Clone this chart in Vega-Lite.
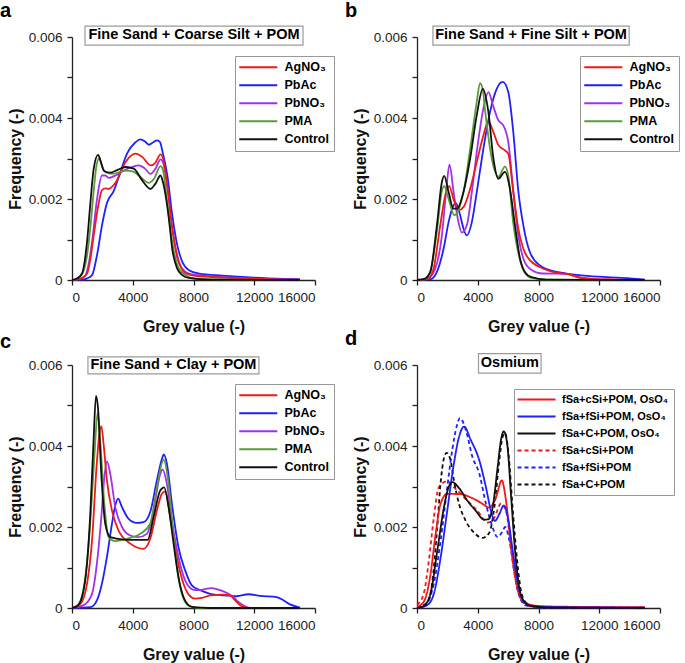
{
  "$schema": "https://vega.github.io/schema/vega-lite/v6.json",
  "padding": {"left": 0, "top": 1, "right": 0, "bottom": 0},
  "config": {
    "view": {"stroke": null},
    "font": "Liberation Sans",
    "axis": {"domainColor": "#222", "domainWidth": 1.3, "tickColor": "#222", "tickWidth": 1.3, "tickSize": 5, "labelFontSize": 13.5, "labelColor": "#222", "labelFont": "Liberation Sans", "labelPadding": 5, "titleFont": "Liberation Sans", "titleFontSize": 16, "titleFontWeight": "bold", "titleColor": "#111", "grid": false},
    "axisX": {"titlePadding": 15},
    "axisY": {"titlePadding": 5},
    "legend": {"strokeColor": "#999", "fillColor": "white", "padding": 5, "labelFont": "Liberation Sans", "labelFontSize": 12.5, "labelFontWeight": "bold", "labelColor": "#000", "symbolType": "M-9.5,0H9.5", "symbolSize": 16, "symbolOffset": 12, "symbolStrokeWidth": 2, "labelOffset": 20, "rowPadding": 5},
    "title": {"font": "Liberation Sans", "fontSize": 20, "fontWeight": "bold", "color": "#000", "anchor": "start", "frame": "group", "dx": -72, "offset": 0},
    "line": {"interpolate": "monotone", "strokeWidth": 1.8}
  },
  "resolve": {"scale": {"color": "independent", "strokeDash": "independent"}, "legend": {"color": "independent", "strokeDash": "independent"}},
  "datasets": {
    "a": [
      {"s":"PbAc","x":0,"y":0},{"s":"PbAc","x":700,"y":0.00001},{"s":"PbAc","x":1000,"y":0.00004},{"s":"PbAc","x":1320,"y":0.00012},{"s":"PbAc","x":1650,"y":0.00062},{"s":"PbAc","x":1975,"y":0.00135},{"s":"PbAc","x":2300,"y":0.0019},{"s":"PbAc","x":2750,"y":0.0022},{"s":"PbAc","x":3190,"y":0.00267},{"s":"PbAc","x":3620,"y":0.00312},{"s":"PbAc","x":4180,"y":0.0034},{"s":"PbAc","x":4500,"y":0.00347},{"s":"PbAc","x":4800,"y":0.00342},{"s":"PbAc","x":5060,"y":0.00334},{"s":"PbAc","x":5350,"y":0.0034},{"s":"PbAc","x":5600,"y":0.00345},{"s":"PbAc","x":5800,"y":0.0034},{"s":"PbAc","x":5940,"y":0.0032},{"s":"PbAc","x":6270,"y":0.0026},{"s":"PbAc","x":6600,"y":0.0016},{"s":"PbAc","x":6930,"y":0.00086},{"s":"PbAc","x":7260,"y":0.00045},{"s":"PbAc","x":7700,"y":0.00024},{"s":"PbAc","x":8360,"y":0.00016},{"s":"PbAc","x":9900,"y":0.00011},{"s":"PbAc","x":12000,"y":0.00006},{"s":"PbAc","x":14000,"y":0.00003},{"s":"PbAc","x":15000,"y":0.00002},
      {"s":"PbNO₃","x":0,"y":0},{"s":"PbNO₃","x":400,"y":0.00002},{"s":"PbNO₃","x":880,"y":0.00011},{"s":"PbNO₃","x":1100,"y":0.0004},{"s":"PbNO₃","x":1320,"y":0.00094},{"s":"PbNO₃","x":1650,"y":0.002},{"s":"PbNO₃","x":1975,"y":0.00258},{"s":"PbNO₃","x":2200,"y":0.00258},{"s":"PbNO₃","x":2420,"y":0.00252},{"s":"PbNO₃","x":2860,"y":0.00258},{"s":"PbNO₃","x":3400,"y":0.0027},{"s":"PbNO₃","x":3960,"y":0.00279},{"s":"PbNO₃","x":4400,"y":0.00283},{"s":"PbNO₃","x":4800,"y":0.00275},{"s":"PbNO₃","x":5170,"y":0.00262},{"s":"PbNO₃","x":5500,"y":0.00275},{"s":"PbNO₃","x":5830,"y":0.00298},{"s":"PbNO₃","x":6000,"y":0.0029},{"s":"PbNO₃","x":6270,"y":0.0023},{"s":"PbNO₃","x":6600,"y":0.0013},{"s":"PbNO₃","x":6930,"y":0.00055},{"s":"PbNO₃","x":7260,"y":0.00028},{"s":"PbNO₃","x":7700,"y":0.00016},{"s":"PbNO₃","x":8300,"y":0.00012},{"s":"PbNO₃","x":9500,"y":0.00008},{"s":"PbNO₃","x":11000,"y":0.00005},{"s":"PbNO₃","x":13000,"y":0.00002},{"s":"PbNO₃","x":15000,"y":0.00001},
      {"s":"AgNO₃","x":0,"y":0},{"s":"AgNO₃","x":500,"y":0.00002},{"s":"AgNO₃","x":990,"y":0.00016},{"s":"AgNO₃","x":1200,"y":0.0005},{"s":"AgNO₃","x":1430,"y":0.0011},{"s":"AgNO₃","x":1760,"y":0.0019},{"s":"AgNO₃","x":1975,"y":0.00222},{"s":"AgNO₃","x":2200,"y":0.00226},{"s":"AgNO₃","x":2420,"y":0.00225},{"s":"AgNO₃","x":2860,"y":0.0024},{"s":"AgNO₃","x":3520,"y":0.00291},{"s":"AgNO₃","x":4180,"y":0.00312},{"s":"AgNO₃","x":4620,"y":0.00304},{"s":"AgNO₃","x":5170,"y":0.00283},{"s":"AgNO₃","x":5500,"y":0.0029},{"s":"AgNO₃","x":5830,"y":0.0031},{"s":"AgNO₃","x":6000,"y":0.003},{"s":"AgNO₃","x":6270,"y":0.00234},{"s":"AgNO₃","x":6600,"y":0.00127},{"s":"AgNO₃","x":7040,"y":0.00045},{"s":"AgNO₃","x":7480,"y":0.00016},{"s":"AgNO₃","x":8140,"y":0.0001},{"s":"AgNO₃","x":10000,"y":0.00006},{"s":"AgNO₃","x":12000,"y":0.00003},{"s":"AgNO₃","x":15000,"y":0.00001},
      {"s":"PMA","x":0,"y":0},{"s":"PMA","x":300,"y":0.00003},{"s":"PMA","x":660,"y":0.00014},{"s":"PMA","x":990,"y":0.0006},{"s":"PMA","x":1210,"y":0.0013},{"s":"PMA","x":1430,"y":0.0022},{"s":"PMA","x":1600,"y":0.0028},{"s":"PMA","x":1780,"y":0.003},{"s":"PMA","x":1950,"y":0.00285},{"s":"PMA","x":2200,"y":0.00266},{"s":"PMA","x":2640,"y":0.00262},{"s":"PMA","x":3520,"y":0.0027},{"s":"PMA","x":4000,"y":0.00268},{"s":"PMA","x":4400,"y":0.00258},{"s":"PMA","x":5060,"y":0.0024},{"s":"PMA","x":5400,"y":0.0025},{"s":"PMA","x":5830,"y":0.00281},{"s":"PMA","x":6000,"y":0.0027},{"s":"PMA","x":6270,"y":0.00192},{"s":"PMA","x":6600,"y":0.00094},{"s":"PMA","x":7040,"y":0.00028},{"s":"PMA","x":7480,"y":0.00012},{"s":"PMA","x":8000,"y":0.00004},{"s":"PMA","x":10000,"y":0.00001},{"s":"PMA","x":15000,"y":0},
      {"s":"Control","x":0,"y":0},{"s":"Control","x":300,"y":0.00003},{"s":"Control","x":660,"y":0.00016},{"s":"Control","x":990,"y":0.00094},{"s":"Control","x":1210,"y":0.0019},{"s":"Control","x":1430,"y":0.00275},{"s":"Control","x":1716,"y":0.00309},{"s":"Control","x":1900,"y":0.00292},{"s":"Control","x":2090,"y":0.0027},{"s":"Control","x":2530,"y":0.00265},{"s":"Control","x":3000,"y":0.00272},{"s":"Control","x":3520,"y":0.00279},{"s":"Control","x":4070,"y":0.00275},{"s":"Control","x":4620,"y":0.00246},{"s":"Control","x":5170,"y":0.00225},{"s":"Control","x":5500,"y":0.00238},{"s":"Control","x":5830,"y":0.00258},{"s":"Control","x":6000,"y":0.0024},{"s":"Control","x":6380,"y":0.00151},{"s":"Control","x":6600,"y":0.00077},{"s":"Control","x":6930,"y":0.00028},{"s":"Control","x":7260,"y":0.00012},{"s":"Control","x":7700,"y":0.00005},{"s":"Control","x":9000,"y":0.00001},{"s":"Control","x":15000,"y":0}
    ],
    "b": [
      {"s":"PbAc","x":0,"y":0},{"s":"PbAc","x":900,"y":0.00002},{"s":"PbAc","x":1310,"y":0.0002},{"s":"PbAc","x":1750,"y":0.00077},{"s":"PbAc","x":2080,"y":0.00143},{"s":"PbAc","x":2400,"y":0.00184},{"s":"PbAc","x":2560,"y":0.0019},{"s":"PbAc","x":2840,"y":0.0016},{"s":"PbAc","x":3060,"y":0.00127},{"s":"PbAc","x":3280,"y":0.0011},{"s":"PbAc","x":3610,"y":0.00143},{"s":"PbAc","x":3935,"y":0.00217},{"s":"PbAc","x":4370,"y":0.00324},{"s":"PbAc","x":4810,"y":0.00415},{"s":"PbAc","x":5250,"y":0.00472},{"s":"PbAc","x":5640,"y":0.00489},{"s":"PbAc","x":6010,"y":0.00464},{"s":"PbAc","x":6340,"y":0.00365},{"s":"PbAc","x":6670,"y":0.0022},{"s":"PbAc","x":7000,"y":0.00135},{"s":"PbAc","x":7430,"y":0.00069},{"s":"PbAc","x":8090,"y":0.00036},{"s":"PbAc","x":9180,"y":0.0002},{"s":"PbAc","x":9840,"y":0.00016},{"s":"PbAc","x":11000,"y":0.00011},{"s":"PbAc","x":12500,"y":0.00007},{"s":"PbAc","x":14000,"y":0.00004},{"s":"PbAc","x":15000,"y":0.00001},
      {"s":"PbNO₃","x":0,"y":0},{"s":"PbNO₃","x":700,"y":0.00003},{"s":"PbNO₃","x":1200,"y":0.00028},{"s":"PbNO₃","x":1640,"y":0.0011},{"s":"PbNO₃","x":1920,"y":0.0022},{"s":"PbNO₃","x":2140,"y":0.00285},{"s":"PbNO₃","x":2400,"y":0.0022},{"s":"PbNO₃","x":2730,"y":0.00143},{"s":"PbNO₃","x":2950,"y":0.00117},{"s":"PbNO₃","x":3280,"y":0.00135},{"s":"PbNO₃","x":3610,"y":0.00217},{"s":"PbNO₃","x":3935,"y":0.00316},{"s":"PbNO₃","x":4370,"y":0.00423},{"s":"PbNO₃","x":4700,"y":0.00464},{"s":"PbNO₃","x":5030,"y":0.00428},{"s":"PbNO₃","x":5360,"y":0.00394},{"s":"PbNO₃","x":5680,"y":0.00382},{"s":"PbNO₃","x":6010,"y":0.00341},{"s":"PbNO₃","x":6340,"y":0.0022},{"s":"PbNO₃","x":6670,"y":0.0011},{"s":"PbNO₃","x":7000,"y":0.00053},{"s":"PbNO₃","x":7430,"y":0.00028},{"s":"PbNO₃","x":8300,"y":0.00016},{"s":"PbNO₃","x":9840,"y":0.00015},{"s":"PbNO₃","x":10500,"y":0.00008},{"s":"PbNO₃","x":11500,"y":0.00003},{"s":"PbNO₃","x":13000,"y":0.00001},{"s":"PbNO₃","x":15000,"y":0},
      {"s":"AgNO₃","x":0,"y":0},{"s":"AgNO₃","x":700,"y":0.00003},{"s":"AgNO₃","x":1090,"y":0.00028},{"s":"AgNO₃","x":1530,"y":0.00135},{"s":"AgNO₃","x":1860,"y":0.00209},{"s":"AgNO₃","x":2120,"y":0.00232},{"s":"AgNO₃","x":2400,"y":0.002},{"s":"AgNO₃","x":2730,"y":0.00172},{"s":"AgNO₃","x":3060,"y":0.0018},{"s":"AgNO₃","x":3500,"y":0.00225},{"s":"AgNO₃","x":3935,"y":0.00291},{"s":"AgNO₃","x":4370,"y":0.00357},{"s":"AgNO₃","x":4700,"y":0.00392},{"s":"AgNO₃","x":5030,"y":0.00365},{"s":"AgNO₃","x":5360,"y":0.00333},{"s":"AgNO₃","x":5790,"y":0.0032},{"s":"AgNO₃","x":6010,"y":0.00312},{"s":"AgNO₃","x":6340,"y":0.00217},{"s":"AgNO₃","x":6670,"y":0.00127},{"s":"AgNO₃","x":7000,"y":0.00077},{"s":"AgNO₃","x":7430,"y":0.00049},{"s":"AgNO₃","x":8090,"y":0.00032},{"s":"AgNO₃","x":9180,"y":0.00018},{"s":"AgNO₃","x":9900,"y":0.00015},{"s":"AgNO₃","x":10500,"y":0.00008},{"s":"AgNO₃","x":11500,"y":0.00003},{"s":"AgNO₃","x":13000,"y":0.00001},{"s":"AgNO₃","x":15000,"y":0},
      {"s":"PMA","x":0,"y":0},{"s":"PMA","x":500,"y":0.00003},{"s":"PMA","x":875,"y":0.0002},{"s":"PMA","x":1310,"y":0.0012},{"s":"PMA","x":1640,"y":0.0022},{"s":"PMA","x":1790,"y":0.00232},{"s":"PMA","x":2080,"y":0.002},{"s":"PMA","x":2450,"y":0.0016},{"s":"PMA","x":2700,"y":0.0017},{"s":"PMA","x":3060,"y":0.00217},{"s":"PMA","x":3500,"y":0.00324},{"s":"PMA","x":3935,"y":0.0044},{"s":"PMA","x":4150,"y":0.00486},{"s":"PMA","x":4330,"y":0.0047},{"s":"PMA","x":4480,"y":0.0042},{"s":"PMA","x":4920,"y":0.003},{"s":"PMA","x":5360,"y":0.00255},{"s":"PMA","x":5790,"y":0.0028},{"s":"PMA","x":6000,"y":0.0026},{"s":"PMA","x":6340,"y":0.0014},{"s":"PMA","x":6780,"y":0.0005},{"s":"PMA","x":7100,"y":0.00018},{"s":"PMA","x":7540,"y":0.00005},{"s":"PMA","x":8500,"y":0.00001},{"s":"PMA","x":15000,"y":0},
      {"s":"Control","x":0,"y":0},{"s":"Control","x":500,"y":0.00003},{"s":"Control","x":875,"y":0.0002},{"s":"Control","x":1310,"y":0.00135},{"s":"Control","x":1640,"y":0.00242},{"s":"Control","x":1790,"y":0.00257},{"s":"Control","x":2080,"y":0.00217},{"s":"Control","x":2400,"y":0.00176},{"s":"Control","x":2620,"y":0.00176},{"s":"Control","x":3060,"y":0.00217},{"s":"Control","x":3500,"y":0.003},{"s":"Control","x":3935,"y":0.00407},{"s":"Control","x":4330,"y":0.00472},{"s":"Control","x":4700,"y":0.00415},{"s":"Control","x":5030,"y":0.003},{"s":"Control","x":5360,"y":0.0025},{"s":"Control","x":5790,"y":0.00267},{"s":"Control","x":6120,"y":0.00225},{"s":"Control","x":6450,"y":0.00135},{"s":"Control","x":6780,"y":0.00053},{"s":"Control","x":7100,"y":0.0002},{"s":"Control","x":7540,"y":0.00007},{"s":"Control","x":8500,"y":0.00001},{"s":"Control","x":15000,"y":0}
    ],
    "c": [
      {"s":"PbAc","x":0,"y":0},{"s":"PbAc","x":1200,"y":0.00002},{"s":"PbAc","x":1640,"y":0.00019},{"s":"PbAc","x":1970,"y":0.0006},{"s":"PbAc","x":2300,"y":0.00126},{"s":"PbAc","x":2630,"y":0.00208},{"s":"PbAc","x":2850,"y":0.00253},{"s":"PbAc","x":3030,"y":0.0027},{"s":"PbAc","x":3290,"y":0.00249},{"s":"PbAc","x":3730,"y":0.0022},{"s":"PbAc","x":4270,"y":0.0021},{"s":"PbAc","x":4710,"y":0.00212},{"s":"PbAc","x":5150,"y":0.00237},{"s":"PbAc","x":5590,"y":0.00315},{"s":"PbAc","x":5920,"y":0.00368},{"s":"PbAc","x":6050,"y":0.00379},{"s":"PbAc","x":6250,"y":0.00356},{"s":"PbAc","x":6580,"y":0.00257},{"s":"PbAc","x":7010,"y":0.0015},{"s":"PbAc","x":7450,"y":0.00093},{"s":"PbAc","x":7890,"y":0.00056},{"s":"PbAc","x":8440,"y":0.00044},{"s":"PbAc","x":9100,"y":0.00035},{"s":"PbAc","x":9970,"y":0.00031},{"s":"PbAc","x":10850,"y":0.00029},{"s":"PbAc","x":11620,"y":0.00034},{"s":"PbAc","x":12380,"y":0.0003},{"s":"PbAc","x":13480,"y":0.00027},{"s":"PbAc","x":13920,"y":0.00019},{"s":"PbAc","x":14360,"y":0.00009},{"s":"PbAc","x":15020,"y":0.00001},
      {"s":"PbNO₃","x":0,"y":0},{"s":"PbNO₃","x":770,"y":0.00007},{"s":"PbNO₃","x":1320,"y":0.00035},{"s":"PbNO₃","x":1640,"y":0.0011},{"s":"PbNO₃","x":1930,"y":0.00224},{"s":"PbNO₃","x":2130,"y":0.00323},{"s":"PbNO₃","x":2300,"y":0.00362},{"s":"PbNO₃","x":2520,"y":0.00331},{"s":"PbNO₃","x":2850,"y":0.00249},{"s":"PbNO₃","x":3290,"y":0.002},{"s":"PbNO₃","x":3840,"y":0.00179},{"s":"PbNO₃","x":4380,"y":0.00175},{"s":"PbNO₃","x":4930,"y":0.00183},{"s":"PbNO₃","x":5370,"y":0.00241},{"s":"PbNO₃","x":5810,"y":0.00331},{"s":"PbNO₃","x":5960,"y":0.00342},{"s":"PbNO₃","x":6250,"y":0.00306},{"s":"PbNO₃","x":6580,"y":0.00216},{"s":"PbNO₃","x":7010,"y":0.00126},{"s":"PbNO₃","x":7450,"y":0.00068},{"s":"PbNO₃","x":8000,"y":0.00045},{"s":"PbNO₃","x":8440,"y":0.00044},{"s":"PbNO₃","x":8880,"y":0.00048},{"s":"PbNO₃","x":9200,"y":0.00049},{"s":"PbNO₃","x":9750,"y":0.00044},{"s":"PbNO₃","x":10300,"y":0.00035},{"s":"PbNO₃","x":10630,"y":0.00027},{"s":"PbNO₃","x":10960,"y":0.00015},{"s":"PbNO₃","x":11400,"y":0.00004},{"s":"PbNO₃","x":11730,"y":0},{"s":"PbNO₃","x":15000,"y":0},
      {"s":"AgNO₃","x":0,"y":0},{"s":"AgNO₃","x":550,"y":0.0001},{"s":"AgNO₃","x":990,"y":0.0006},{"s":"AgNO₃","x":1320,"y":0.00167},{"s":"AgNO₃","x":1600,"y":0.0034},{"s":"AgNO₃","x":1780,"y":0.00422},{"s":"AgNO₃","x":1930,"y":0.00449},{"s":"AgNO₃","x":2080,"y":0.00405},{"s":"AgNO₃","x":2300,"y":0.00315},{"s":"AgNO₃","x":2630,"y":0.00241},{"s":"AgNO₃","x":3070,"y":0.00191},{"s":"AgNO₃","x":3840,"y":0.00159},{"s":"AgNO₃","x":4710,"y":0.00146},{"s":"AgNO₃","x":5150,"y":0.00171},{"s":"AgNO₃","x":5590,"y":0.00241},{"s":"AgNO₃","x":5920,"y":0.00282},{"s":"AgNO₃","x":6140,"y":0.00288},{"s":"AgNO₃","x":6470,"y":0.00224},{"s":"AgNO₃","x":6900,"y":0.00126},{"s":"AgNO₃","x":7340,"y":0.0006},{"s":"AgNO₃","x":7780,"y":0.00029},{"s":"AgNO₃","x":8110,"y":0.00023},{"s":"AgNO₃","x":8550,"y":0.00025},{"s":"AgNO₃","x":9100,"y":0.00031},{"s":"AgNO₃","x":9970,"y":0.00033},{"s":"AgNO₃","x":10410,"y":0.00031},{"s":"AgNO₃","x":10740,"y":0.00019},{"s":"AgNO₃","x":11180,"y":0.00004},{"s":"AgNO₃","x":11730,"y":0},{"s":"AgNO₃","x":15000,"y":0},
      {"s":"PMA","x":0,"y":0},{"s":"PMA","x":440,"y":0.0001},{"s":"PMA","x":880,"y":0.00076},{"s":"PMA","x":1200,"y":0.00208},{"s":"PMA","x":1470,"y":0.00372},{"s":"PMA","x":1690,"y":0.00483},{"s":"PMA","x":1860,"y":0.00413},{"s":"PMA","x":2130,"y":0.00257},{"s":"PMA","x":2410,"y":0.00175},{"s":"PMA","x":2850,"y":0.00165},{"s":"PMA","x":3620,"y":0.00171},{"s":"PMA","x":4490,"y":0.00183},{"s":"PMA","x":5150,"y":0.00208},{"s":"PMA","x":5590,"y":0.00298},{"s":"PMA","x":6030,"y":0.00366},{"s":"PMA","x":6360,"y":0.00306},{"s":"PMA","x":6690,"y":0.00175},{"s":"PMA","x":7010,"y":0.00076},{"s":"PMA","x":7340,"y":0.00023},{"s":"PMA","x":7780,"y":0.00004},{"s":"PMA","x":8500,"y":0},{"s":"PMA","x":15000,"y":0},
      {"s":"Control","x":0,"y":0},{"s":"Control","x":330,"y":0.00004},{"s":"Control","x":660,"y":0.00027},{"s":"Control","x":990,"y":0.0011},{"s":"Control","x":1200,"y":0.0023},{"s":"Control","x":1420,"y":0.00413},{"s":"Control","x":1580,"y":0.00524},{"s":"Control","x":1710,"y":0.00495},{"s":"Control","x":1930,"y":0.0033},{"s":"Control","x":2190,"y":0.00208},{"s":"Control","x":2520,"y":0.00175},{"s":"Control","x":3400,"y":0.00169},{"s":"Control","x":4270,"y":0.00168},{"s":"Control","x":4980,"y":0.00168},{"s":"Control","x":5370,"y":0.00224},{"s":"Control","x":5810,"y":0.0029},{"s":"Control","x":6070,"y":0.00298},{"s":"Control","x":6360,"y":0.00249},{"s":"Control","x":6690,"y":0.00159},{"s":"Control","x":7010,"y":0.00076},{"s":"Control","x":7340,"y":0.00027},{"s":"Control","x":7670,"y":0.00007},{"s":"Control","x":8000,"y":0.00002},{"s":"Control","x":9000,"y":0},{"s":"Control","x":15000,"y":0}
    ],
    "d": [
      {"s":"fSa+cSi+POM","x":0,"y":0.00008},{"s":"fSa+cSi+POM","x":440,"y":0.00035},{"s":"fSa+cSi+POM","x":775,"y":0.00115},{"s":"fSa+cSi+POM","x":1107,"y":0.00223},{"s":"fSa+cSi+POM","x":1440,"y":0.00298},{"s":"fSa+cSi+POM","x":1990,"y":0.00313},{"s":"fSa+cSi+POM","x":2430,"y":0.00298},{"s":"fSa+cSi+POM","x":3320,"y":0.00265},{"s":"fSa+cSi+POM","x":3980,"y":0.0024},{"s":"fSa+cSi+POM","x":4650,"y":0.00211},{"s":"fSa+cSi+POM","x":5090,"y":0.00223},{"s":"fSa+cSi+POM","x":5530,"y":0.00258},{"s":"fSa+cSi+POM","x":5860,"y":0.0024},{"s":"fSa+cSi+POM","x":6200,"y":0.00148},{"s":"fSa+cSi+POM","x":6530,"y":0.0006},{"s":"fSa+cSi+POM","x":6860,"y":0.0002},{"s":"fSa+cSi+POM","x":7300,"y":0.00007},{"s":"fSa+cSi+POM","x":8000,"y":0.00003},{"s":"fSa+cSi+POM","x":15000,"y":0.00001},
      {"s":"fSa+fSi+POM","x":0,"y":0},{"s":"fSa+fSi+POM","x":660,"y":0.00013},{"s":"fSa+fSi+POM","x":1107,"y":0.0006},{"s":"fSa+fSi+POM","x":1550,"y":0.00165},{"s":"fSa+fSi+POM","x":1990,"y":0.00298},{"s":"fSa+fSi+POM","x":2320,"y":0.0039},{"s":"fSa+fSi+POM","x":2610,"y":0.00448},{"s":"fSa+fSi+POM","x":2830,"y":0.00469},{"s":"fSa+fSi+POM","x":3210,"y":0.0044},{"s":"fSa+fSi+POM","x":3650,"y":0.00373},{"s":"fSa+fSi+POM","x":4100,"y":0.00332},{"s":"fSa+fSi+POM","x":4540,"y":0.00257},{"s":"fSa+fSi+POM","x":4910,"y":0.00207},{"s":"fSa+fSi+POM","x":5310,"y":0.00175},{"s":"fSa+fSi+POM","x":5640,"y":0.0019},{"s":"fSa+fSi+POM","x":5800,"y":0.002},{"s":"fSa+fSi+POM","x":6090,"y":0.00165},{"s":"fSa+fSi+POM","x":6420,"y":0.00085},{"s":"fSa+fSi+POM","x":6750,"y":0.00028},{"s":"fSa+fSi+POM","x":7200,"y":0.00006},{"s":"fSa+fSi+POM","x":8500,"y":0.00001},{"s":"fSa+fSi+POM","x":15000,"y":0},
      {"s":"fSa+C+POM","x":0,"y":0},{"s":"fSa+C+POM","x":660,"y":0.00013},{"s":"fSa+C+POM","x":995,"y":0.0006},{"s":"fSa+C+POM","x":1330,"y":0.00198},{"s":"fSa+C+POM","x":1550,"y":0.00307},{"s":"fSa+C+POM","x":1770,"y":0.00369},{"s":"fSa+C+POM","x":1950,"y":0.00383},{"s":"fSa+C+POM","x":2210,"y":0.00365},{"s":"fSa+C+POM","x":2430,"y":0.00315},{"s":"fSa+C+POM","x":2770,"y":0.00257},{"s":"fSa+C+POM","x":3210,"y":0.00215},{"s":"fSa+C+POM","x":3760,"y":0.00186},{"s":"fSa+C+POM","x":4320,"y":0.00173},{"s":"fSa+C+POM","x":4760,"y":0.00186},{"s":"fSa+C+POM","x":5090,"y":0.00248},{"s":"fSa+C+POM","x":5420,"y":0.00365},{"s":"fSa+C+POM","x":5640,"y":0.00423},{"s":"fSa+C+POM","x":5800,"y":0.00432},{"s":"fSa+C+POM","x":6020,"y":0.00382},{"s":"fSa+C+POM","x":6310,"y":0.0024},{"s":"fSa+C+POM","x":6600,"y":0.00115},{"s":"fSa+C+POM","x":6860,"y":0.0004},{"s":"fSa+C+POM","x":7190,"y":0.00013},{"s":"fSa+C+POM","x":8000,"y":0.00002},{"s":"fSa+C+POM","x":15000,"y":0},
      {"s":"fSa+cSi+POM, OsO₄","x":0,"y":0.00003},{"s":"fSa+cSi+POM, OsO₄","x":440,"y":0.00015},{"s":"fSa+cSi+POM, OsO₄","x":885,"y":0.00082},{"s":"fSa+cSi+POM, OsO₄","x":1217,"y":0.0018},{"s":"fSa+cSi+POM, OsO₄","x":1550,"y":0.00257},{"s":"fSa+cSi+POM, OsO₄","x":1990,"y":0.00282},{"s":"fSa+cSi+POM, OsO₄","x":2880,"y":0.00281},{"s":"fSa+cSi+POM, OsO₄","x":3540,"y":0.00273},{"s":"fSa+cSi+POM, OsO₄","x":4200,"y":0.0026},{"s":"fSa+cSi+POM, OsO₄","x":4760,"y":0.00248},{"s":"fSa+cSi+POM, OsO₄","x":5200,"y":0.00273},{"s":"fSa+cSi+POM, OsO₄","x":5580,"y":0.00315},{"s":"fSa+cSi+POM, OsO₄","x":5860,"y":0.00265},{"s":"fSa+cSi+POM, OsO₄","x":6200,"y":0.00148},{"s":"fSa+cSi+POM, OsO₄","x":6530,"y":0.00065},{"s":"fSa+cSi+POM, OsO₄","x":6860,"y":0.00023},{"s":"fSa+cSi+POM, OsO₄","x":7300,"y":0.0001},{"s":"fSa+cSi+POM, OsO₄","x":7970,"y":0.00005},{"s":"fSa+cSi+POM, OsO₄","x":10000,"y":0.00003},{"s":"fSa+cSi+POM, OsO₄","x":15000,"y":0.00002},
      {"s":"fSa+fSi+POM, OsO₄","x":0,"y":0},{"s":"fSa+fSi+POM, OsO₄","x":660,"y":0.00007},{"s":"fSa+fSi+POM, OsO₄","x":1107,"y":0.00035},{"s":"fSa+fSi+POM, OsO₄","x":1550,"y":0.00123},{"s":"fSa+fSi+POM, OsO₄","x":1990,"y":0.0024},{"s":"fSa+fSi+POM, OsO₄","x":2430,"y":0.00357},{"s":"fSa+fSi+POM, OsO₄","x":2770,"y":0.00423},{"s":"fSa+fSi+POM, OsO₄","x":3100,"y":0.00448},{"s":"fSa+fSi+POM, OsO₄","x":3540,"y":0.00415},{"s":"fSa+fSi+POM, OsO₄","x":4100,"y":0.00365},{"s":"fSa+fSi+POM, OsO₄","x":4540,"y":0.00298},{"s":"fSa+fSi+POM, OsO₄","x":4870,"y":0.0024},{"s":"fSa+fSi+POM, OsO₄","x":5130,"y":0.00215},{"s":"fSa+fSi+POM, OsO₄","x":5420,"y":0.00232},{"s":"fSa+fSi+POM, OsO₄","x":5710,"y":0.00253},{"s":"fSa+fSi+POM, OsO₄","x":5975,"y":0.00225},{"s":"fSa+fSi+POM, OsO₄","x":6310,"y":0.0014},{"s":"fSa+fSi+POM, OsO₄","x":6640,"y":0.0006},{"s":"fSa+fSi+POM, OsO₄","x":6970,"y":0.0002},{"s":"fSa+fSi+POM, OsO₄","x":7500,"y":0.00005},{"s":"fSa+fSi+POM, OsO₄","x":9000,"y":0.00002},{"s":"fSa+fSi+POM, OsO₄","x":15000,"y":0.00001},
      {"s":"fSa+C+POM, OsO₄","x":0,"y":0},{"s":"fSa+C+POM, OsO₄","x":440,"y":0.00005},{"s":"fSa+C+POM, OsO₄","x":885,"y":0.00035},{"s":"fSa+C+POM, OsO₄","x":1330,"y":0.0014},{"s":"fSa+C+POM, OsO₄","x":1770,"y":0.00248},{"s":"fSa+C+POM, OsO₄","x":2100,"y":0.003},{"s":"fSa+C+POM, OsO₄","x":2320,"y":0.00311},{"s":"fSa+C+POM, OsO₄","x":2770,"y":0.00296},{"s":"fSa+C+POM, OsO₄","x":3320,"y":0.00265},{"s":"fSa+C+POM, OsO₄","x":3870,"y":0.0024},{"s":"fSa+C+POM, OsO₄","x":4430,"y":0.00218},{"s":"fSa+C+POM, OsO₄","x":4690,"y":0.00219},{"s":"fSa+C+POM, OsO₄","x":4980,"y":0.00248},{"s":"fSa+C+POM, OsO₄","x":5310,"y":0.00348},{"s":"fSa+C+POM, OsO₄","x":5530,"y":0.00415},{"s":"fSa+C+POM, OsO₄","x":5710,"y":0.00436},{"s":"fSa+C+POM, OsO₄","x":5930,"y":0.00408},{"s":"fSa+C+POM, OsO₄","x":6200,"y":0.00273},{"s":"fSa+C+POM, OsO₄","x":6460,"y":0.0014},{"s":"fSa+C+POM, OsO₄","x":6750,"y":0.00048},{"s":"fSa+C+POM, OsO₄","x":7080,"y":0.00015},{"s":"fSa+C+POM, OsO₄","x":7520,"y":0.00005},{"s":"fSa+C+POM, OsO₄","x":9000,"y":0.00001},{"s":"fSa+C+POM, OsO₄","x":15000,"y":0}
    ]
  },
  "spacing": -6,
  "vconcat": [
    {
      "spacing": 10,
      "resolve": {"scale": {"color": "independent"}, "legend": {"color": "independent"}},
      "hconcat": [
        {
          "width": 243, "height": 243,
          "title": {"text": "a"},
          "layer": [
            {"data": {"name": "a"}, "mark": {"type": "line"},
             "encoding": {
               "x": {"field": "x", "type": "quantitative", "scale": {"domain": [0, 16000], "nice": false}, "axis": {"title": "Grey value (-)", "values": [0,2000,4000,6000,8000,10000,12000,14000,16000], "format": "d", "labelExpr": "datum.value % 4000 == 0 ? datum.label : ''"}},
               "y": {"field": "y", "type": "quantitative", "scale": {"domain": [0, 0.006], "nice": false}, "axis": {"title": "Frequency (-)", "values": [0,0.001,0.002,0.003,0.004,0.005,0.006], "format": ".3~f", "labelExpr": "round(datum.value*1000) % 2 == 0 ? datum.label : ''"}},
               "color": {"field": "s", "type": "nominal", "scale": {"domain": ["AgNO₃","PbAc","PbNO₃","PMA","Control"], "range": ["#f01818","#1f1fff","#a030f0","#5b9b37","#111111"]}, "legend": {"title": null, "orient": "none", "legendX": 163, "legendY": 19}}
             }},
            {"data": {"values": [{}]}, "mark": {"type": "rect", "fill": "white", "stroke": "#9a9a9a", "strokeWidth": 1.2},
             "encoding": {"x": {"datum": 856}, "x2": {"datum": 15210}, "y": {"datum": 0.00627}, "y2": {"datum": 0.0058}}},
            {"data": {"values": [{}]}, "mark": {"type": "text", "font": "Liberation Sans", "fontSize": 14.5, "fontWeight": "bold", "color": "#000", "align": "center", "baseline": "middle"},
             "encoding": {"x": {"datum": 8030}, "y": {"datum": 0.00604}, "text": {"value": "Fine Sand + Coarse Silt + POM"}}}
          ]
        },
        {
          "width": 243, "height": 243,
          "title": {"text": "b"},
          "layer": [
            {"data": {"name": "b"}, "mark": {"type": "line"},
             "encoding": {
               "x": {"field": "x", "type": "quantitative", "scale": {"domain": [0, 16000], "nice": false}, "axis": {"title": "Grey value (-)", "values": [0,2000,4000,6000,8000,10000,12000,14000,16000], "format": "d", "labelExpr": "datum.value % 4000 == 0 ? datum.label : ''"}},
               "y": {"field": "y", "type": "quantitative", "scale": {"domain": [0, 0.006], "nice": false}, "axis": {"title": "Frequency (-)", "values": [0,0.001,0.002,0.003,0.004,0.005,0.006], "format": ".3~f", "labelExpr": "round(datum.value*1000) % 2 == 0 ? datum.label : ''"}},
               "color": {"field": "s", "type": "nominal", "scale": {"domain": ["AgNO₃","PbAc","PbNO₃","PMA","Control"], "range": ["#f01818","#1f1fff","#a030f0","#5b9b37","#111111"]}, "legend": {"title": null, "orient": "none", "legendX": 163, "legendY": 19}}
             }},
            {"data": {"values": [{}]}, "mark": {"type": "rect", "fill": "white", "stroke": "#9a9a9a", "strokeWidth": 1.2},
             "encoding": {"x": {"datum": 1050}, "x2": {"datum": 13970}, "y": {"datum": 0.00627}, "y2": {"datum": 0.0058}}},
            {"data": {"values": [{}]}, "mark": {"type": "text", "font": "Liberation Sans", "fontSize": 14.5, "fontWeight": "bold", "color": "#000", "align": "center", "baseline": "middle"},
             "encoding": {"x": {"datum": 7510}, "y": {"datum": 0.00604}, "text": {"value": "Fine Sand + Fine Silt + POM"}}}
          ]
        }
      ]
    },
    {
      "spacing": 10,
      "resolve": {"scale": {"color": "independent", "strokeDash": "independent"}, "legend": {"color": "independent", "strokeDash": "independent"}},
      "hconcat": [
        {
          "width": 243, "height": 243,
          "title": {"text": "c"},
          "layer": [
            {"data": {"name": "c"}, "mark": {"type": "line"},
             "encoding": {
               "x": {"field": "x", "type": "quantitative", "scale": {"domain": [0, 16000], "nice": false}, "axis": {"title": "Grey value (-)", "values": [0,2000,4000,6000,8000,10000,12000,14000,16000], "format": "d", "labelExpr": "datum.value % 4000 == 0 ? datum.label : ''"}},
               "y": {"field": "y", "type": "quantitative", "scale": {"domain": [0, 0.006], "nice": false}, "axis": {"title": "Frequency (-)", "values": [0,0.001,0.002,0.003,0.004,0.005,0.006], "format": ".3~f", "labelExpr": "round(datum.value*1000) % 2 == 0 ? datum.label : ''"}},
               "color": {"field": "s", "type": "nominal", "scale": {"domain": ["AgNO₃","PbAc","PbNO₃","PMA","Control"], "range": ["#f01818","#1f1fff","#a030f0","#5b9b37","#111111"]}, "legend": {"title": null, "orient": "none", "legendX": 163, "legendY": 19}}
             }},
            {"data": {"values": [{}]}, "mark": {"type": "rect", "fill": "white", "stroke": "#9a9a9a", "strokeWidth": 1.2},
             "encoding": {"x": {"datum": 1050}, "x2": {"datum": 12310}, "y": {"datum": 0.0062}, "y2": {"datum": 0.00578}}},
            {"data": {"values": [{}]}, "mark": {"type": "text", "font": "Liberation Sans", "fontSize": 14.5, "fontWeight": "bold", "color": "#000", "align": "center", "baseline": "middle"},
             "encoding": {"x": {"datum": 6680}, "y": {"datum": 0.00599}, "text": {"value": "Fine Sand + Clay + POM"}}}
          ]
        },
        {
          "width": 243, "height": 243,
          "title": {"text": "d"},
          "layer": [
            {"data": {"name": "d"}, "mark": {"type": "line"},
             "encoding": {
               "x": {"field": "x", "type": "quantitative", "scale": {"domain": [0, 16000], "nice": false}, "axis": {"title": "Grey value (-)", "values": [0,2000,4000,6000,8000,10000,12000,14000,16000], "format": "d", "labelExpr": "datum.value % 4000 == 0 ? datum.label : ''"}},
               "y": {"field": "y", "type": "quantitative", "scale": {"domain": [0, 0.006], "nice": false}, "axis": {"title": "Frequency (-)", "values": [0,0.001,0.002,0.003,0.004,0.005,0.006], "format": ".3~f", "labelExpr": "round(datum.value*1000) % 2 == 0 ? datum.label : ''"}},
               "color": {"field": "s", "type": "nominal", "scale": {"domain": ["fSa+cSi+POM, OsO₄","fSa+fSi+POM, OsO₄","fSa+C+POM, OsO₄","fSa+cSi+POM","fSa+fSi+POM","fSa+C+POM"], "range": ["#f01818","#1f1fff","#111111","#f01818","#1f1fff","#111111"]}, "legend": {"title": null, "orient": "none", "legendX": 97, "legendY": 24, "labelFontSize": 11}},
               "strokeDash": {"field": "s", "type": "nominal", "scale": {"domain": ["fSa+cSi+POM, OsO₄","fSa+fSi+POM, OsO₄","fSa+C+POM, OsO₄","fSa+cSi+POM","fSa+fSi+POM","fSa+C+POM"], "range": [[1,0],[1,0],[1,0],[4,3],[4,3],[4,3]]}, "legend": {"title": null, "orient": "none", "legendX": 97, "legendY": 24, "labelFontSize": 11}}
             }},
            {"data": {"values": [{}]}, "mark": {"type": "rect", "fill": "white", "stroke": "#9a9a9a", "strokeWidth": 1.2},
             "encoding": {"x": {"datum": 4050}, "x2": {"datum": 8170}, "y": {"datum": 0.00628}, "y2": {"datum": 0.0058}}},
            {"data": {"values": [{}]}, "mark": {"type": "text", "font": "Liberation Sans", "fontSize": 14.5, "fontWeight": "bold", "color": "#000", "align": "center", "baseline": "middle"},
             "encoding": {"x": {"datum": 6110}, "y": {"datum": 0.00604}, "text": {"value": "Osmium"}}}
          ]
        }
      ]
    }
  ]
}
